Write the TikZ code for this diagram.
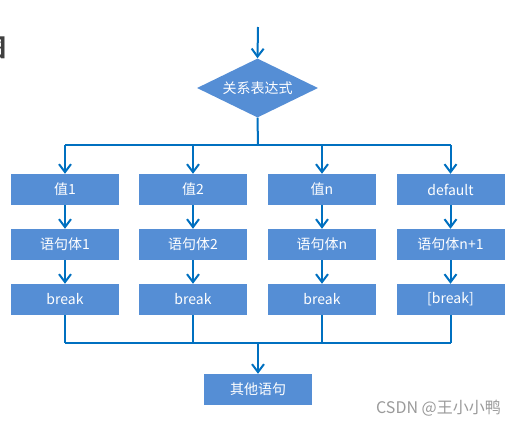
\documentclass[tikz,border=0pt]{standalone}
\usepackage{fontspec}
\setmainfont{Noto Sans CJK SC}
\newfontfamily\cjk{Noto Sans CJK SC}
\usetikzlibrary{shapes.geometric,arrows.meta}
\definecolor{boxblue}{HTML}{558ED5}
\definecolor{lineblue}{HTML}{0070C0}
\definecolor{wmgray}{HTML}{9A9A9A}
\tikzset{
  box/.style={rectangle, fill=boxblue, draw=none, minimum width=108pt, minimum height=31pt, inner sep=0pt, text=white, font=\cjk\fontsize{14}{16}\selectfont},
  decision/.style={diamond, fill=boxblue, draw=none, minimum width=121pt, minimum height=59pt, aspect=2.05, inner sep=0pt, text=white, font=\cjk\fontsize{14}{16}\selectfont},
  conn/.style={draw=lineblue, line width=2pt},
  arr/.style={conn, -{Straight Barb[length=8pt,width=12pt,line width=2pt]}},
}
\begin{document}
\begin{tikzpicture}[x=1pt, y=-1pt]
\useasboundingbox (0,0) rectangle (516,426);
\begin{scope}
\clip (0,0) rectangle (516,426);
\node[font=\cjk\bfseries\fontsize{24}{26}\selectfont, text=black!75] (frag) at (-5.5,48) {图};
\end{scope}
\coordinate (start) at (258,27);
\node[decision] (d) at (257.5,88) {关系表达式};
\coordinate (bus) at (258,145);
\coordinate (bot) at (258,343);

\node[box] (v1) at (65,189.5) {值1};
\node[box] (v2) at (193,189.5) {值2};
\node[box] (v3) at (322,189.5) {值n};
\node[box] (v4) at (450.5,189.5) {default};

\node[box] (s1) at (65,244.5) {语句体1};
\node[box] (s2) at (193,244.5) {语句体2};
\node[box] (s3) at (322,244.5) {语句体n};
\node[box] (s4) at (450.5,244.5) {语句体n+1};

\node[box] (b1) at (65,299.5) {break};
\node[box] (b2) at (193,299.5) {break};
\node[box] (b3) at (322,299.5) {break};
\node[box] (b4) at (450.5,299.5) {[break]};

\node[box] (other) at (258,389.5) {其他语句};

\node[font=\cjk\fontsize{16}{18}\selectfont, text=wmgray, anchor=east, inner sep=0pt] (wm) at (501,408) {CSDN @王小小鸭};

\draw[arr] (start) -- (d.north);
\draw[conn] (d.south) -- (bus);
\draw[conn] (v1.north |- bus) -- (v4.north |- bus);
\foreach \i in {1,2,3,4} {
  \draw[arr] (v\i.north |- bus) -- (v\i.north);
  \draw[arr] (v\i) -- (s\i);
  \draw[arr] (s\i) -- (b\i);
  \draw[conn] (b\i.south) -- (b\i.south |- bot);
}
\draw[conn] (b1.south |- bot) -- (b4.south |- bot);
\draw[arr] (bot) -- (other.north);
\end{tikzpicture}
\end{document}
